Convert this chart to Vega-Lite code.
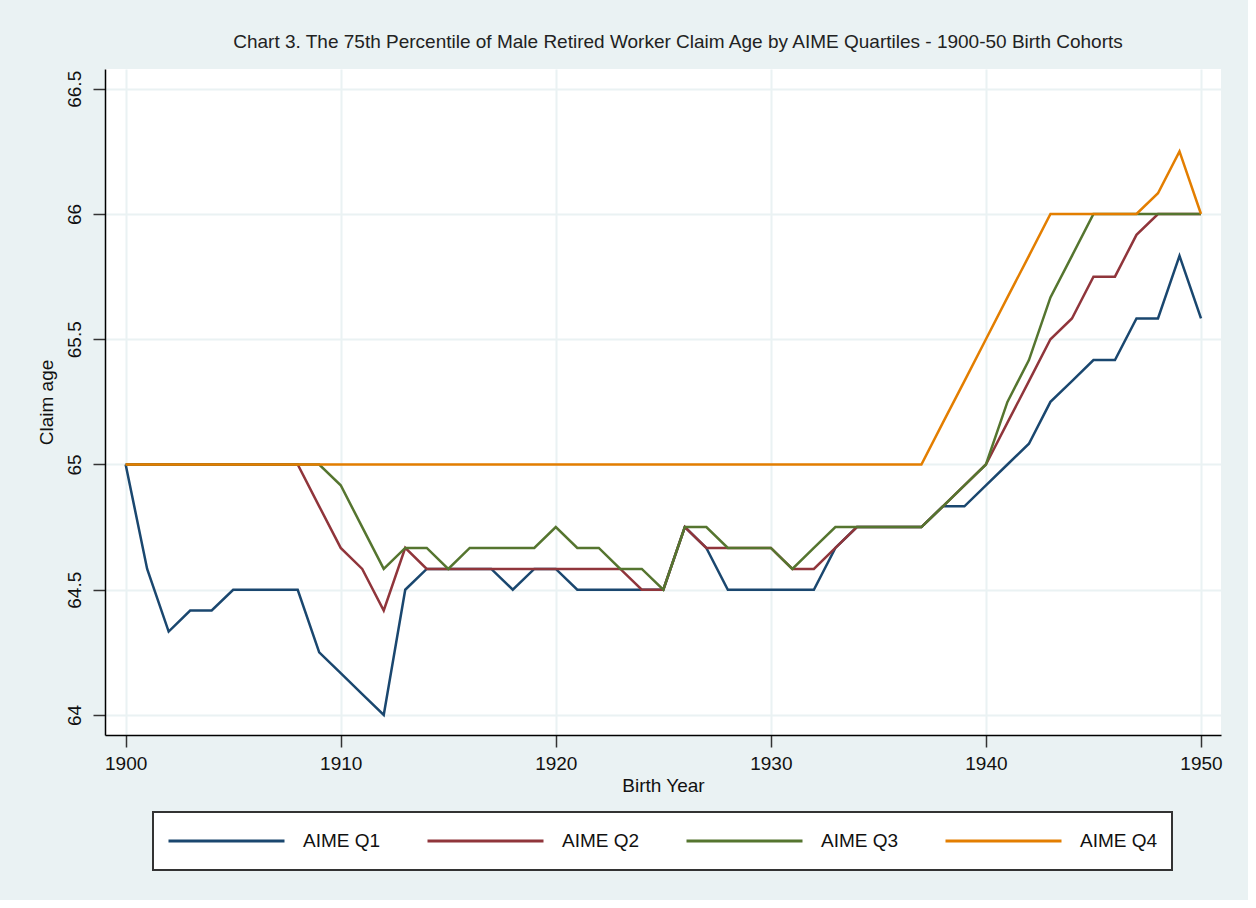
{
  "$schema": "https://vega.github.io/schema/vega-lite/v6.json",
  "width": 1116,
  "height": 666,
  "autosize": "none",
  "padding": {"left": 105, "top": 69, "right": 27, "bottom": 165},
  "background": "#eaf2f3",
  "title": {
    "text": "Chart 3. The 75th Percentile of Male Retired Worker Claim Age by AIME Quartiles - 1900-50 Birth Cohorts",
    "fontSize": 19,
    "fontWeight": "normal",
    "color": "#222222",
    "font": "Liberation Sans",
    "anchor": "middle",
    "dx": 15,
    "offset": 17
  },
  "config": {
    "font": "Liberation Sans",
    "view": {"fill": "white", "stroke": null},
    "axis": {
      "grid": true,
      "gridColor": "#eaf2f3",
      "gridWidth": 2,
      "domainColor": "#000000",
      "domainWidth": 1.5,
      "tickColor": "#333333",
      "tickWidth": 1.5,
      "tickSize": 12,
      "labelFontSize": 19,
      "labelColor": "#111111",
      "titleFontSize": 19,
      "titleFontWeight": "normal",
      "titleColor": "#111111"
    }
  },
  "data": {
    "values": [
      {"year": 1900, "series": "AIME Q1", "age": 65},
      {"year": 1901, "series": "AIME Q1", "age": 64.583},
      {"year": 1902, "series": "AIME Q1", "age": 64.333},
      {"year": 1903, "series": "AIME Q1", "age": 64.417},
      {"year": 1904, "series": "AIME Q1", "age": 64.417},
      {"year": 1905, "series": "AIME Q1", "age": 64.5},
      {"year": 1906, "series": "AIME Q1", "age": 64.5},
      {"year": 1907, "series": "AIME Q1", "age": 64.5},
      {"year": 1908, "series": "AIME Q1", "age": 64.5},
      {"year": 1909, "series": "AIME Q1", "age": 64.25},
      {"year": 1910, "series": "AIME Q1", "age": 64.167},
      {"year": 1911, "series": "AIME Q1", "age": 64.083},
      {"year": 1912, "series": "AIME Q1", "age": 64},
      {"year": 1913, "series": "AIME Q1", "age": 64.5},
      {"year": 1914, "series": "AIME Q1", "age": 64.583},
      {"year": 1915, "series": "AIME Q1", "age": 64.583},
      {"year": 1916, "series": "AIME Q1", "age": 64.583},
      {"year": 1917, "series": "AIME Q1", "age": 64.583},
      {"year": 1918, "series": "AIME Q1", "age": 64.5},
      {"year": 1919, "series": "AIME Q1", "age": 64.583},
      {"year": 1920, "series": "AIME Q1", "age": 64.583},
      {"year": 1921, "series": "AIME Q1", "age": 64.5},
      {"year": 1922, "series": "AIME Q1", "age": 64.5},
      {"year": 1923, "series": "AIME Q1", "age": 64.5},
      {"year": 1924, "series": "AIME Q1", "age": 64.5},
      {"year": 1925, "series": "AIME Q1", "age": 64.5},
      {"year": 1926, "series": "AIME Q1", "age": 64.75},
      {"year": 1927, "series": "AIME Q1", "age": 64.667},
      {"year": 1928, "series": "AIME Q1", "age": 64.5},
      {"year": 1929, "series": "AIME Q1", "age": 64.5},
      {"year": 1930, "series": "AIME Q1", "age": 64.5},
      {"year": 1931, "series": "AIME Q1", "age": 64.5},
      {"year": 1932, "series": "AIME Q1", "age": 64.5},
      {"year": 1933, "series": "AIME Q1", "age": 64.667},
      {"year": 1934, "series": "AIME Q1", "age": 64.75},
      {"year": 1935, "series": "AIME Q1", "age": 64.75},
      {"year": 1936, "series": "AIME Q1", "age": 64.75},
      {"year": 1937, "series": "AIME Q1", "age": 64.75},
      {"year": 1938, "series": "AIME Q1", "age": 64.833},
      {"year": 1939, "series": "AIME Q1", "age": 64.833},
      {"year": 1940, "series": "AIME Q1", "age": 64.917},
      {"year": 1941, "series": "AIME Q1", "age": 65},
      {"year": 1942, "series": "AIME Q1", "age": 65.083},
      {"year": 1943, "series": "AIME Q1", "age": 65.25},
      {"year": 1944, "series": "AIME Q1", "age": 65.333},
      {"year": 1945, "series": "AIME Q1", "age": 65.417},
      {"year": 1946, "series": "AIME Q1", "age": 65.417},
      {"year": 1947, "series": "AIME Q1", "age": 65.583},
      {"year": 1948, "series": "AIME Q1", "age": 65.583},
      {"year": 1949, "series": "AIME Q1", "age": 65.833},
      {"year": 1950, "series": "AIME Q1", "age": 65.583},

      {"year": 1900, "series": "AIME Q2", "age": 65},
      {"year": 1901, "series": "AIME Q2", "age": 65},
      {"year": 1902, "series": "AIME Q2", "age": 65},
      {"year": 1903, "series": "AIME Q2", "age": 65},
      {"year": 1904, "series": "AIME Q2", "age": 65},
      {"year": 1905, "series": "AIME Q2", "age": 65},
      {"year": 1906, "series": "AIME Q2", "age": 65},
      {"year": 1907, "series": "AIME Q2", "age": 65},
      {"year": 1908, "series": "AIME Q2", "age": 65},
      {"year": 1909, "series": "AIME Q2", "age": 64.833},
      {"year": 1910, "series": "AIME Q2", "age": 64.667},
      {"year": 1911, "series": "AIME Q2", "age": 64.583},
      {"year": 1912, "series": "AIME Q2", "age": 64.417},
      {"year": 1913, "series": "AIME Q2", "age": 64.667},
      {"year": 1914, "series": "AIME Q2", "age": 64.583},
      {"year": 1915, "series": "AIME Q2", "age": 64.583},
      {"year": 1916, "series": "AIME Q2", "age": 64.583},
      {"year": 1917, "series": "AIME Q2", "age": 64.583},
      {"year": 1918, "series": "AIME Q2", "age": 64.583},
      {"year": 1919, "series": "AIME Q2", "age": 64.583},
      {"year": 1920, "series": "AIME Q2", "age": 64.583},
      {"year": 1921, "series": "AIME Q2", "age": 64.583},
      {"year": 1922, "series": "AIME Q2", "age": 64.583},
      {"year": 1923, "series": "AIME Q2", "age": 64.583},
      {"year": 1924, "series": "AIME Q2", "age": 64.5},
      {"year": 1925, "series": "AIME Q2", "age": 64.5},
      {"year": 1926, "series": "AIME Q2", "age": 64.75},
      {"year": 1927, "series": "AIME Q2", "age": 64.667},
      {"year": 1928, "series": "AIME Q2", "age": 64.667},
      {"year": 1929, "series": "AIME Q2", "age": 64.667},
      {"year": 1930, "series": "AIME Q2", "age": 64.667},
      {"year": 1931, "series": "AIME Q2", "age": 64.583},
      {"year": 1932, "series": "AIME Q2", "age": 64.583},
      {"year": 1933, "series": "AIME Q2", "age": 64.667},
      {"year": 1934, "series": "AIME Q2", "age": 64.75},
      {"year": 1935, "series": "AIME Q2", "age": 64.75},
      {"year": 1936, "series": "AIME Q2", "age": 64.75},
      {"year": 1937, "series": "AIME Q2", "age": 64.75},
      {"year": 1938, "series": "AIME Q2", "age": 64.833},
      {"year": 1939, "series": "AIME Q2", "age": 64.917},
      {"year": 1940, "series": "AIME Q2", "age": 65},
      {"year": 1941, "series": "AIME Q2", "age": 65.167},
      {"year": 1942, "series": "AIME Q2", "age": 65.333},
      {"year": 1943, "series": "AIME Q2", "age": 65.5},
      {"year": 1944, "series": "AIME Q2", "age": 65.583},
      {"year": 1945, "series": "AIME Q2", "age": 65.75},
      {"year": 1946, "series": "AIME Q2", "age": 65.75},
      {"year": 1947, "series": "AIME Q2", "age": 65.917},
      {"year": 1948, "series": "AIME Q2", "age": 66},
      {"year": 1949, "series": "AIME Q2", "age": 66},
      {"year": 1950, "series": "AIME Q2", "age": 66},

      {"year": 1900, "series": "AIME Q3", "age": 65},
      {"year": 1901, "series": "AIME Q3", "age": 65},
      {"year": 1902, "series": "AIME Q3", "age": 65},
      {"year": 1903, "series": "AIME Q3", "age": 65},
      {"year": 1904, "series": "AIME Q3", "age": 65},
      {"year": 1905, "series": "AIME Q3", "age": 65},
      {"year": 1906, "series": "AIME Q3", "age": 65},
      {"year": 1907, "series": "AIME Q3", "age": 65},
      {"year": 1908, "series": "AIME Q3", "age": 65},
      {"year": 1909, "series": "AIME Q3", "age": 65},
      {"year": 1910, "series": "AIME Q3", "age": 64.917},
      {"year": 1911, "series": "AIME Q3", "age": 64.75},
      {"year": 1912, "series": "AIME Q3", "age": 64.583},
      {"year": 1913, "series": "AIME Q3", "age": 64.667},
      {"year": 1914, "series": "AIME Q3", "age": 64.667},
      {"year": 1915, "series": "AIME Q3", "age": 64.583},
      {"year": 1916, "series": "AIME Q3", "age": 64.667},
      {"year": 1917, "series": "AIME Q3", "age": 64.667},
      {"year": 1918, "series": "AIME Q3", "age": 64.667},
      {"year": 1919, "series": "AIME Q3", "age": 64.667},
      {"year": 1920, "series": "AIME Q3", "age": 64.75},
      {"year": 1921, "series": "AIME Q3", "age": 64.667},
      {"year": 1922, "series": "AIME Q3", "age": 64.667},
      {"year": 1923, "series": "AIME Q3", "age": 64.583},
      {"year": 1924, "series": "AIME Q3", "age": 64.583},
      {"year": 1925, "series": "AIME Q3", "age": 64.5},
      {"year": 1926, "series": "AIME Q3", "age": 64.75},
      {"year": 1927, "series": "AIME Q3", "age": 64.75},
      {"year": 1928, "series": "AIME Q3", "age": 64.667},
      {"year": 1929, "series": "AIME Q3", "age": 64.667},
      {"year": 1930, "series": "AIME Q3", "age": 64.667},
      {"year": 1931, "series": "AIME Q3", "age": 64.583},
      {"year": 1932, "series": "AIME Q3", "age": 64.667},
      {"year": 1933, "series": "AIME Q3", "age": 64.75},
      {"year": 1934, "series": "AIME Q3", "age": 64.75},
      {"year": 1935, "series": "AIME Q3", "age": 64.75},
      {"year": 1936, "series": "AIME Q3", "age": 64.75},
      {"year": 1937, "series": "AIME Q3", "age": 64.75},
      {"year": 1938, "series": "AIME Q3", "age": 64.833},
      {"year": 1939, "series": "AIME Q3", "age": 64.917},
      {"year": 1940, "series": "AIME Q3", "age": 65},
      {"year": 1941, "series": "AIME Q3", "age": 65.25},
      {"year": 1942, "series": "AIME Q3", "age": 65.417},
      {"year": 1943, "series": "AIME Q3", "age": 65.667},
      {"year": 1944, "series": "AIME Q3", "age": 65.833},
      {"year": 1945, "series": "AIME Q3", "age": 66},
      {"year": 1946, "series": "AIME Q3", "age": 66},
      {"year": 1947, "series": "AIME Q3", "age": 66},
      {"year": 1948, "series": "AIME Q3", "age": 66},
      {"year": 1949, "series": "AIME Q3", "age": 66},
      {"year": 1950, "series": "AIME Q3", "age": 66},

      {"year": 1900, "series": "AIME Q4", "age": 65},
      {"year": 1901, "series": "AIME Q4", "age": 65},
      {"year": 1902, "series": "AIME Q4", "age": 65},
      {"year": 1903, "series": "AIME Q4", "age": 65},
      {"year": 1904, "series": "AIME Q4", "age": 65},
      {"year": 1905, "series": "AIME Q4", "age": 65},
      {"year": 1906, "series": "AIME Q4", "age": 65},
      {"year": 1907, "series": "AIME Q4", "age": 65},
      {"year": 1908, "series": "AIME Q4", "age": 65},
      {"year": 1909, "series": "AIME Q4", "age": 65},
      {"year": 1910, "series": "AIME Q4", "age": 65},
      {"year": 1911, "series": "AIME Q4", "age": 65},
      {"year": 1912, "series": "AIME Q4", "age": 65},
      {"year": 1913, "series": "AIME Q4", "age": 65},
      {"year": 1914, "series": "AIME Q4", "age": 65},
      {"year": 1915, "series": "AIME Q4", "age": 65},
      {"year": 1916, "series": "AIME Q4", "age": 65},
      {"year": 1917, "series": "AIME Q4", "age": 65},
      {"year": 1918, "series": "AIME Q4", "age": 65},
      {"year": 1919, "series": "AIME Q4", "age": 65},
      {"year": 1920, "series": "AIME Q4", "age": 65},
      {"year": 1921, "series": "AIME Q4", "age": 65},
      {"year": 1922, "series": "AIME Q4", "age": 65},
      {"year": 1923, "series": "AIME Q4", "age": 65},
      {"year": 1924, "series": "AIME Q4", "age": 65},
      {"year": 1925, "series": "AIME Q4", "age": 65},
      {"year": 1926, "series": "AIME Q4", "age": 65},
      {"year": 1927, "series": "AIME Q4", "age": 65},
      {"year": 1928, "series": "AIME Q4", "age": 65},
      {"year": 1929, "series": "AIME Q4", "age": 65},
      {"year": 1930, "series": "AIME Q4", "age": 65},
      {"year": 1931, "series": "AIME Q4", "age": 65},
      {"year": 1932, "series": "AIME Q4", "age": 65},
      {"year": 1933, "series": "AIME Q4", "age": 65},
      {"year": 1934, "series": "AIME Q4", "age": 65},
      {"year": 1935, "series": "AIME Q4", "age": 65},
      {"year": 1936, "series": "AIME Q4", "age": 65},
      {"year": 1937, "series": "AIME Q4", "age": 65},
      {"year": 1938, "series": "AIME Q4", "age": 65.167},
      {"year": 1939, "series": "AIME Q4", "age": 65.333},
      {"year": 1940, "series": "AIME Q4", "age": 65.5},
      {"year": 1941, "series": "AIME Q4", "age": 65.667},
      {"year": 1942, "series": "AIME Q4", "age": 65.833},
      {"year": 1943, "series": "AIME Q4", "age": 66},
      {"year": 1944, "series": "AIME Q4", "age": 66},
      {"year": 1945, "series": "AIME Q4", "age": 66},
      {"year": 1946, "series": "AIME Q4", "age": 66},
      {"year": 1947, "series": "AIME Q4", "age": 66},
      {"year": 1948, "series": "AIME Q4", "age": 66.083},
      {"year": 1949, "series": "AIME Q4", "age": 66.25},
      {"year": 1950, "series": "AIME Q4", "age": 66}
    ]
  },
  "mark": {"type": "line", "strokeWidth": 2.5, "clip": true},
  "encoding": {
    "x": {
      "field": "year",
      "type": "quantitative",
      "scale": {"domain": [1899.04, 1950.93], "nice": false, "zero": false},
      "axis": {
        "values": [1900, 1910, 1920, 1930, 1940, 1950],
        "format": "d",
        "title": "Birth Year",
        "labelPadding": 7,
        "titlePadding": 3
      }
    },
    "y": {
      "field": "age",
      "type": "quantitative",
      "scale": {"domain": [63.92, 66.579], "nice": false, "zero": false},
      "axis": {
        "values": [64, 64.5, 65, 65.5, 66, 66.5],
        "format": "~g",
        "title": "Claim age",
        "labelAngle": -90,
        "labelAlign": "center",
        "labelBaseline": "bottom",
        "labelPadding": 9,
        "titlePadding": 9
      }
    },
    "color": {
      "field": "series",
      "type": "nominal",
      "scale": {
        "domain": ["AIME Q1", "AIME Q2", "AIME Q3", "AIME Q4"],
        "range": ["#1a476f", "#90353b", "#55752f", "#e37e00"]
      },
      "legend": {
        "title": null,
        "orient": "none",
        "legendX": 48,
        "legendY": 743,
        "direction": "horizontal",
        "columns": 4,
        "columnPadding": 45,
        "symbolType": "stroke",
        "symbolSize": 13456,
        "symbolStrokeWidth": 3,
        "clipHeight": 30,
        "labelFontSize": 19,
        "labelColor": "#111111",
        "labelOffset": 17,
        "padding": 14,
        "fillColor": "white",
        "strokeColor": "#333333",
        "encode": {"legend": {"update": {"strokeWidth": {"value": 2}}}}
      }
    }
  }
}
